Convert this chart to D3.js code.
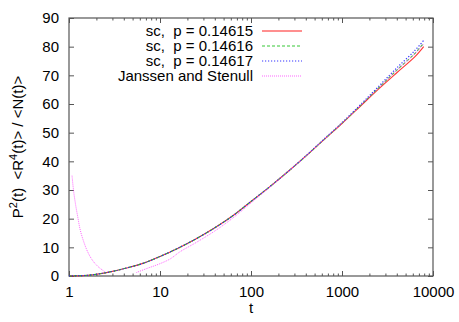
<!DOCTYPE html>
<html><head><meta charset="utf-8">
<script src="https://cdn.jsdelivr.net/npm/d3@7"></script>
<style>
html,body{margin:0;padding:0;background:#fff;}
svg{display:block;}
text{font-family:"Liberation Sans",Arial,Helvetica,sans-serif;fill:#000;}
</style></head>
<body>
<svg id="c" width="459" height="322"></svg>
<script>
// ---- data ----
const seriesNames = ["sc,\u00a0 p = 0.14615", "sc,\u00a0 p = 0.14616", "sc,\u00a0 p = 0.14617", "Janssen and Stenull"];
const tSc   = [1, 1.5, 2, 3, 4.3, 6.5, 10, 16, 25, 40, 63, 100, 160, 250, 400, 630, 1000, 1600, 2500, 4000, 6300, 7900];
const vP15  = [0, 0.2, 0.6, 1.6, 2.8, 4.4, 6.8, 9.8, 13.0, 16.8, 21.0, 26.0, 31.1, 36.2, 41.8, 47.5, 53.2, 59.3, 65.1, 70.9, 76.4, 80.0];
const vP16  = [0, 0.2, 0.6, 1.6, 2.8, 4.4, 6.8, 9.8, 13.0, 16.8, 21.0, 26.0, 31.1, 36.2, 41.8, 47.5, 53.3, 59.5, 65.5, 71.8, 77.6, 81.2];
const vP17  = [0, 0.2, 0.6, 1.6, 2.8, 4.4, 6.8, 9.8, 13.0, 16.8, 21.0, 26.0, 31.1, 36.2, 41.9, 47.7, 53.5, 59.8, 66.0, 72.6, 78.6, 82.2];
const tJs1  = [1.08, 1.12, 1.18, 1.25, 1.33, 1.45, 1.6, 1.8, 2.05, 2.3, 2.5];
const vJs1  = [35, 30, 25, 20.5, 16, 12, 8.5, 5.6, 3.5, 2.2, 1.4];
const tJs2  = [5.5, 7, 10, 13, 16.5, 25, 40, 63, 100, 160, 250, 400, 630, 1000, 1600, 2500, 4000, 6300, 7900];
const vJs2  = [1.2, 2.5, 4.3, 6.0, 8.4, 11.7, 15.7, 20.2, 25.5, 30.9, 36.2, 41.8, 47.5, 53.3, 59.5, 65.5, 71.8, 77.5, 81.0];
const xTicks = [1, 10, 100, 1000, 10000];
const xTickLabels = ["1", "10", "100", "1000", "10000"];
const yTicks = [0, 10, 20, 30, 40, 50, 60, 70, 80, 90];
const xLabel = "t";

// ---- layout ----
const svg = d3.select("#c");
const L = 69, R = 433, T = 18, B = 276;
const x = d3.scaleLog().domain([1, 10000]).range([L, R]);
const y = d3.scaleLinear().domain([0, 90]).range([B, T]);
const axisColor = "#555";
const fs = 15;

const minor = [];
for (let d = 1; d < 10000; d *= 10) for (let k = 2; k <= 9; k++) minor.push(d * k);

function style(g) {
  g.select(".domain").remove();
  g.selectAll(".tick line").attr("stroke", axisColor).attr("stroke-width", 1);
  g.selectAll(".tick text").attr("font-size", fs).attr("font-family", "Liberation Sans, Arial, sans-serif");
}
svg.append("g").attr("transform", `translate(0,${B})`)
  .call(d3.axisBottom(x).tickValues(xTicks).tickFormat((d, i) => xTickLabels[i]).tickSizeInner(-5).tickSizeOuter(0).tickPadding(10))
  .call(style);
svg.append("g").attr("transform", `translate(0,${B})`)
  .call(d3.axisBottom(x).tickValues(minor).tickFormat("").tickSizeInner(-2.5).tickSizeOuter(0))
  .call(style);
svg.append("g").attr("transform", `translate(0,${T})`)
  .call(d3.axisTop(x).tickValues(xTicks).tickFormat("").tickSizeInner(-5).tickSizeOuter(0))
  .call(style);
svg.append("g").attr("transform", `translate(0,${T})`)
  .call(d3.axisTop(x).tickValues(minor).tickFormat("").tickSizeInner(-2.5).tickSizeOuter(0))
  .call(style);
svg.append("g").attr("transform", `translate(${L},0)`)
  .call(d3.axisLeft(y).tickValues(yTicks).tickFormat(d3.format("d")).tickSizeInner(-5).tickSizeOuter(0).tickPadding(10))
  .call(style);
svg.append("g").attr("transform", `translate(${R},0)`)
  .call(d3.axisRight(y).tickValues(yTicks).tickFormat("").tickSizeInner(-5).tickSizeOuter(0))
  .call(style);

svg.append("rect").attr("x", L).attr("y", T).attr("width", R - L).attr("height", B - T)
  .attr("fill", "none").attr("stroke", axisColor).attr("stroke-width", 1.2);

// series
const line = d3.line().x(d => x(d[0])).y(d => y(d[1])).curve(d3.curveCatmullRom.alpha(0.5));
const zip = (a, b) => a.map((v, i) => [v, b[i]]);
const styles = [
  {stroke: "#ff2020", dash: null, w: 1.1, op: 0.9},
  {stroke: "#20c020", dash: "3,2", w: 1.1, op: 0.9},
  {stroke: "#2020ff", dash: "1.2,1.8", w: 1.2, op: 0.9},
  {stroke: "#ff40ff", dash: "1,1", w: 1.0, op: 0.8}
];
const data = [
  [zip(tSc, vP15)],
  [zip(tSc, vP16)],
  [zip(tSc, vP17)],
  [zip(tJs1, vJs1), zip(tJs2, vJs2)]
];
data.forEach((parts, i) => {
  parts.forEach(p => {
    svg.append("path").attr("d", line(p)).attr("fill", "none")
      .attr("stroke", styles[i].stroke).attr("stroke-width", styles[i].w)
      .attr("stroke-opacity", styles[i].op)
      .attr("stroke-dasharray", styles[i].dash);
  });
});

// legend
const legY = [31, 46, 61, 76];
seriesNames.forEach((n, i) => {
  svg.append("text").attr("x", 253).attr("y", legY[i]).attr("dy", "0.35em")
    .attr("text-anchor", "end").attr("font-size", fs).text(n);
  svg.append("line").attr("x1", 262).attr("x2", 302).attr("y1", legY[i]).attr("y2", legY[i])
    .attr("stroke", styles[i].stroke).attr("stroke-width", i === 0 ? 2 : 1.2)
    .attr("stroke-opacity", i === 0 ? 0.5 : styles[i].op)
    .attr("stroke-dasharray", styles[i].dash);
});

// axis titles
svg.append("text").attr("x", 251).attr("y", 313).attr("text-anchor", "middle").attr("font-size", fs).text(xLabel);
const yt = svg.append("text").attr("transform", "translate(23,147) rotate(-90)")
  .attr("text-anchor", "middle").attr("font-size", fs);
yt.append("tspan").text("P");
yt.append("tspan").attr("dy", -6).attr("font-size", 11).text("2");
yt.append("tspan").attr("dy", 6).text("(t)\u00a0 <R");
yt.append("tspan").attr("dy", -6).attr("font-size", 11).text("4");
yt.append("tspan").attr("dy", 6).text("(t)> / <N(t)>");
</script>
</body></html>
